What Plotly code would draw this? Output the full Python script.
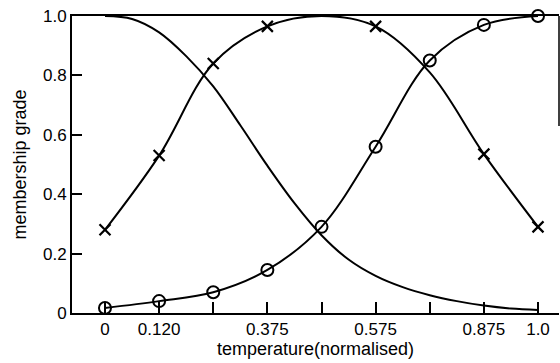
import plotly.graph_objects as go

# Normalised temperature positions (eighths of the range)
x_knots = [0, 0.125, 0.25, 0.375, 0.5, 0.625, 0.75, 0.875, 1.0]
tick_text = ["0", "0.120", "", "0.375", "", "0.575", "", "0.875", "1.0"]

# "low" membership: smooth decreasing curve (sampled every 1/16)
x_low = [0, 0.0625, 0.125, 0.1875, 0.25, 0.3125, 0.375, 0.4375, 0.5,
         0.5625, 0.625, 0.6875, 0.75, 0.8125, 0.875, 0.9375, 1.0]
y_low = [1.0, 0.99, 0.945, 0.865, 0.763, 0.632, 0.496, 0.37, 0.262,
         0.18, 0.125, 0.087, 0.06, 0.04, 0.025, 0.015, 0.01]

# "medium" membership: bell curve, crosses mark measured points
x_med = [0, 0.125, 0.25, 0.375, 0.5, 0.625, 0.75, 0.875, 1.0]
y_med = [0.28, 0.53, 0.84, 0.965, 1.0, 0.965, 0.81, 0.535, 0.29]
x_med_pts = [0, 0.125, 0.25, 0.375, 0.625, 0.875, 1.0]
y_med_pts = [0.28, 0.53, 0.84, 0.965, 0.965, 0.535, 0.29]

# "high" membership: increasing curve, circles mark measured points
x_high = [0, 0.125, 0.25, 0.375, 0.5, 0.625, 0.75, 0.875, 1.0]
y_high = [0.017, 0.04, 0.07, 0.145, 0.29, 0.56, 0.85, 0.97, 1.0]

y_ticks = [0, 0.2, 0.4, 0.6, 0.8, 1.0]
y_tick_text = ["0", "0.2", "0.4", "0.6", "0.8", "1.0"]

ink = "black"
font = dict(family="Liberation Sans, Arial, sans-serif", size=17, color=ink)
title_font = dict(family="Liberation Sans, Arial, sans-serif", size=18, color=ink)

fig = go.Figure()
fig.add_trace(go.Scatter(x=x_low, y=y_low, mode="lines",
                         line=dict(color=ink, width=2, shape="spline"),
                         hoverinfo="skip"))
fig.add_trace(go.Scatter(x=x_med, y=y_med, mode="lines",
                         line=dict(color=ink, width=2, shape="spline"),
                         hoverinfo="skip"))
fig.add_trace(go.Scatter(x=x_med_pts, y=y_med_pts, mode="markers",
                         marker=dict(symbol="x-thin-open", size=11, color=ink,
                                     line=dict(color=ink, width=2.2)),
                         cliponaxis=False))
fig.add_trace(go.Scatter(x=x_high, y=y_high, mode="lines+markers",
                         line=dict(color=ink, width=2, shape="spline"),
                         marker=dict(symbol="circle-open", size=12, color=ink,
                                     line=dict(color=ink, width=2)),
                         cliponaxis=False))

# partial right-hand frame line
fig.add_shape(type="line", xref="paper", yref="paper",
              x0=1, x1=1, y0=0.63, y1=1.0,
              line=dict(color=ink, width=1.5))

fig.update_layout(
    width=560, height=363,
    margin=dict(l=72, r=1, t=16, b=50),
    paper_bgcolor="white", plot_bgcolor="white",
    showlegend=False,
    font=font,
)
fig.update_xaxes(
    range=[-0.0762, 1.0485],
    tickmode="array", tickvals=x_knots, ticktext=tick_text,
    ticks="inside", ticklen=11, tickwidth=1.5, tickcolor=ink,
    showgrid=False, zeroline=False,
    showline=True, linecolor=ink, linewidth=2, mirror=True,
    title=dict(text="temperature(normalised)", font=title_font, standoff=3),
)
fig.update_yaxes(
    range=[0, 1.0],
    tickmode="array", tickvals=y_ticks, ticktext=y_tick_text,
    ticks="inside", ticklen=10, tickwidth=1.5, tickcolor=ink,
    showgrid=False, zeroline=False,
    showline=True, linecolor=ink, linewidth=2,
    title=dict(text="membership grade", font=title_font, standoff=12),
)

fig.write_html("out.html")
